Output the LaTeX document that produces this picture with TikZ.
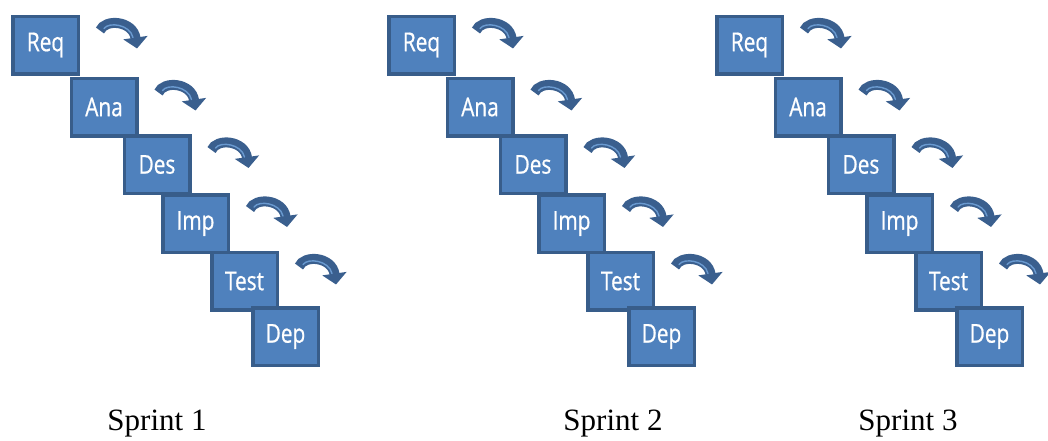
\documentclass[tikz,border=0pt]{standalone}
\usepackage{fontspec}
\setmainfont{Liberation Serif}
\newfontfamily\boxfont[FakeStretch=0.8,FakeBold=0.7]{Open Sans}
\usetikzlibrary{arrows.meta,calc}
\definecolor{boxfill}{HTML}{4F81BD}
\definecolor{boxline}{HTML}{385D8A}
\definecolor{arrdark}{HTML}{3A5F8E}
\definecolor{arrlight}{HTML}{6A9AD0}
\tikzset{
  phase/.style={draw=boxline, fill=boxfill, line width=3.5pt,
    minimum width=65.5pt, minimum height=57.5pt, inner sep=0pt,
    text=white, font=\boxfont\fontsize{26}{28}\selectfont},
  turnarrow/.style={draw=arrdark, line width=10pt,
    -{Triangle[width=24pt,length=11pt]}},
  turnshine/.style={draw=arrlight, line width=1.4pt, line cap=round},
  sprintlabel/.style={font=\fontsize{31}{34}\selectfont, anchor=base}
}
% curved arrow leaving the top right corner of a phase box
\newcommand\nextarrow[1]{%
  \draw[turnarrow] ([shift={(20pt,-16pt)}]#1.north east)
    .. controls +(5pt,12pt) and +(-4pt,28pt) .. +(37pt,-18pt);
  \draw[turnshine] ([shift={(24pt,-14pt)}]#1.north east)
    .. controls +(5pt,7pt) and +(-3pt,13pt) .. +(29pt,-9pt);
}
\begin{document}
\begin{tikzpicture}[x=1pt,y=-1pt]
\useasboundingbox (0,0) rectangle (1048,440);
\clip (0,0) rectangle (1048,440);
\foreach \s/\dx in {1/0,2/376,3/704}{
  \begin{scope}[xshift=\dx pt]
    \node[phase] (req\s)  at (45.5,45)   {Req};
    \node[phase] (ana\s)  at (104,107)   {Ana};
    \node[phase] (des\s)  at (157,164.5) {Des};
    \node[phase] (imp\s)  at (195.5,223.5) {Imp};
    \node[phase] (test\s) at (244.5,281) {Test};
    \node[phase] (dep\s)  at (285.5,336.5) {Dep};
    \nextarrow{req\s}
    \nextarrow{ana\s}
    \nextarrow{des\s}
    \nextarrow{imp\s}
    \nextarrow{test\s}
  \end{scope}
}
\node[sprintlabel] (s1) at (157,430) {Sprint 1};
\node[sprintlabel] (s2) at (613,430) {Sprint 2};
\node[sprintlabel] (s3) at (908,430) {Sprint 3};
\end{tikzpicture}
\end{document}
